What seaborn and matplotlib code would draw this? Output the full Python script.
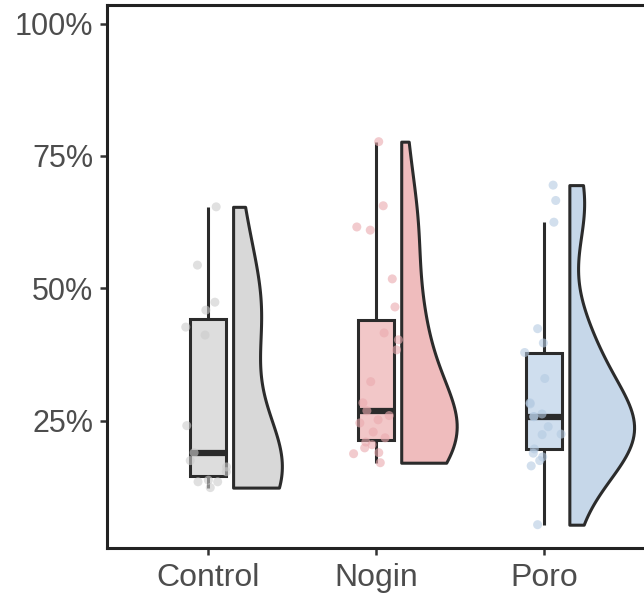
import numpy as np
import pandas as pd
import matplotlib
matplotlib.use("Agg")
import matplotlib.pyplot as plt
import seaborn as sns
from matplotlib.collections import PolyCollection

# ---- data (percent values) ----
groups = ["Control", "Nogin", "Poro"]
control_vals = [12.4, 13.5, 13.5, 13.8, 15.4, 16.3, 17.5, 19.0, 24.1,
                41.2, 42.7, 45.9, 47.4, 54.4, 65.4]
nogin_vals = [17.1, 18.8, 19.0, 19.9, 20.5, 21.0, 21.8, 22.9, 24.6, 25.2,
              26.0, 26.9, 28.4, 32.4, 38.4, 40.3, 41.6, 46.5, 51.8, 61.0,
              61.6, 65.6, 77.7]
poro_vals = [5.4, 16.5, 17.5, 18.2, 18.9, 19.7, 22.4, 22.5, 23.9, 25.8,
             25.8, 26.3, 28.2, 28.4, 33.0, 37.9, 39.7, 42.4, 62.5, 66.6, 69.5]
y_ticks = [25, 50, 75, 100]
y_tick_labels = ["25%", "50%", "75%", "100%"]

violin_colors = ["#d8d8d8", "#efbcbd", "#c6d7e9"]
box_colors = ["#dddddd", "#f2c7c8", "#cfdeee"]
point_colors = ["#cccccc", "#eaa9ae", "#b4cae2"]

# styling per violin (full width before halving, and smoothing)
violin_widths = [0.58, 0.66, 0.77]
violin_bw = [1.0, 0.95, 0.85]

df = pd.DataFrame({
    "group": (["Control"] * len(control_vals) + ["Nogin"] * len(nogin_vals)
              + ["Poro"] * len(poro_vals)),
    "value": control_vals + nogin_vals + poro_vals,
})

sns.set_theme(style="white")
plt.rcParams["font.family"] = ["Liberation Sans", "DejaVu Sans"]

fig = plt.figure(figsize=(6.44, 5.93), dpi=100)
ax = fig.add_axes([107 / 644, 45 / 593, 538 / 644, 543 / 593])

edge = "#2b2b2b"
pal = dict(zip(groups, violin_colors))

# half violins (flat, right side)
shift = 0.15
for g, w, bw in zip(groups, violin_widths, violin_bw):
    n_before = len(ax.collections)
    sub = df[df["group"] == g]
    sns.violinplot(data=sub, x="group", y="value", hue="group", order=groups,
                   hue_order=groups, palette=pal, density_norm="width",
                   cut=0, inner=None, width=w, bw_adjust=bw, linewidth=2.2,
                   linecolor=edge, legend=False, ax=ax, saturation=1)
    for coll in ax.collections[n_before:]:
        if not isinstance(coll, PolyCollection):
            continue
        new = []
        for p in coll.get_paths():
            v = np.array(p.vertices, dtype=float)
            center = np.round(np.nanmedian(v[:, 0]))
            v[:, 0] = np.maximum(v[:, 0], center) + shift
            new.append(v)
        coll.set_verts(new)
        coll.set_zorder(1)

# boxplots
sns.boxplot(data=df, x="group", y="value", hue="group", order=groups,
            hue_order=groups, palette=box_colors, width=0.21, showfliers=False,
            showcaps=False, linewidth=2.2, linecolor=edge, legend=False,
            medianprops={"linewidth": 4.5}, ax=ax, saturation=1)

# jittered points
np.random.seed(3)
sns.stripplot(data=df, x="group", y="value", hue="group", order=groups,
              hue_order=groups, palette=point_colors, jitter=0.14, size=6.5,
              alpha=0.6, linewidth=0, legend=False, ax=ax, zorder=5)

ax.set_xlim(-0.6, 2.6)
ax.set_ylim(1.0, 103.5)
ax.set_yticks(y_ticks)
ax.set_yticklabels(y_tick_labels)
ax.set_xlabel("")
ax.set_ylabel("")

for side in ["left", "bottom", "top"]:
    ax.spines[side].set_visible(True)
    ax.spines[side].set_color("#222222")
    ax.spines[side].set_linewidth(2.2)
ax.spines["right"].set_visible(False)

ax.tick_params(axis="both", which="both", length=5, width=1.8,
               color="#333333", labelcolor="#4d4d4d",
               left=True, bottom=True)
ax.tick_params(axis="y", labelsize=22, pad=5)
ax.tick_params(axis="x", labelsize=23, pad=5.5)

fig.savefig("out.png", dpi=100)
